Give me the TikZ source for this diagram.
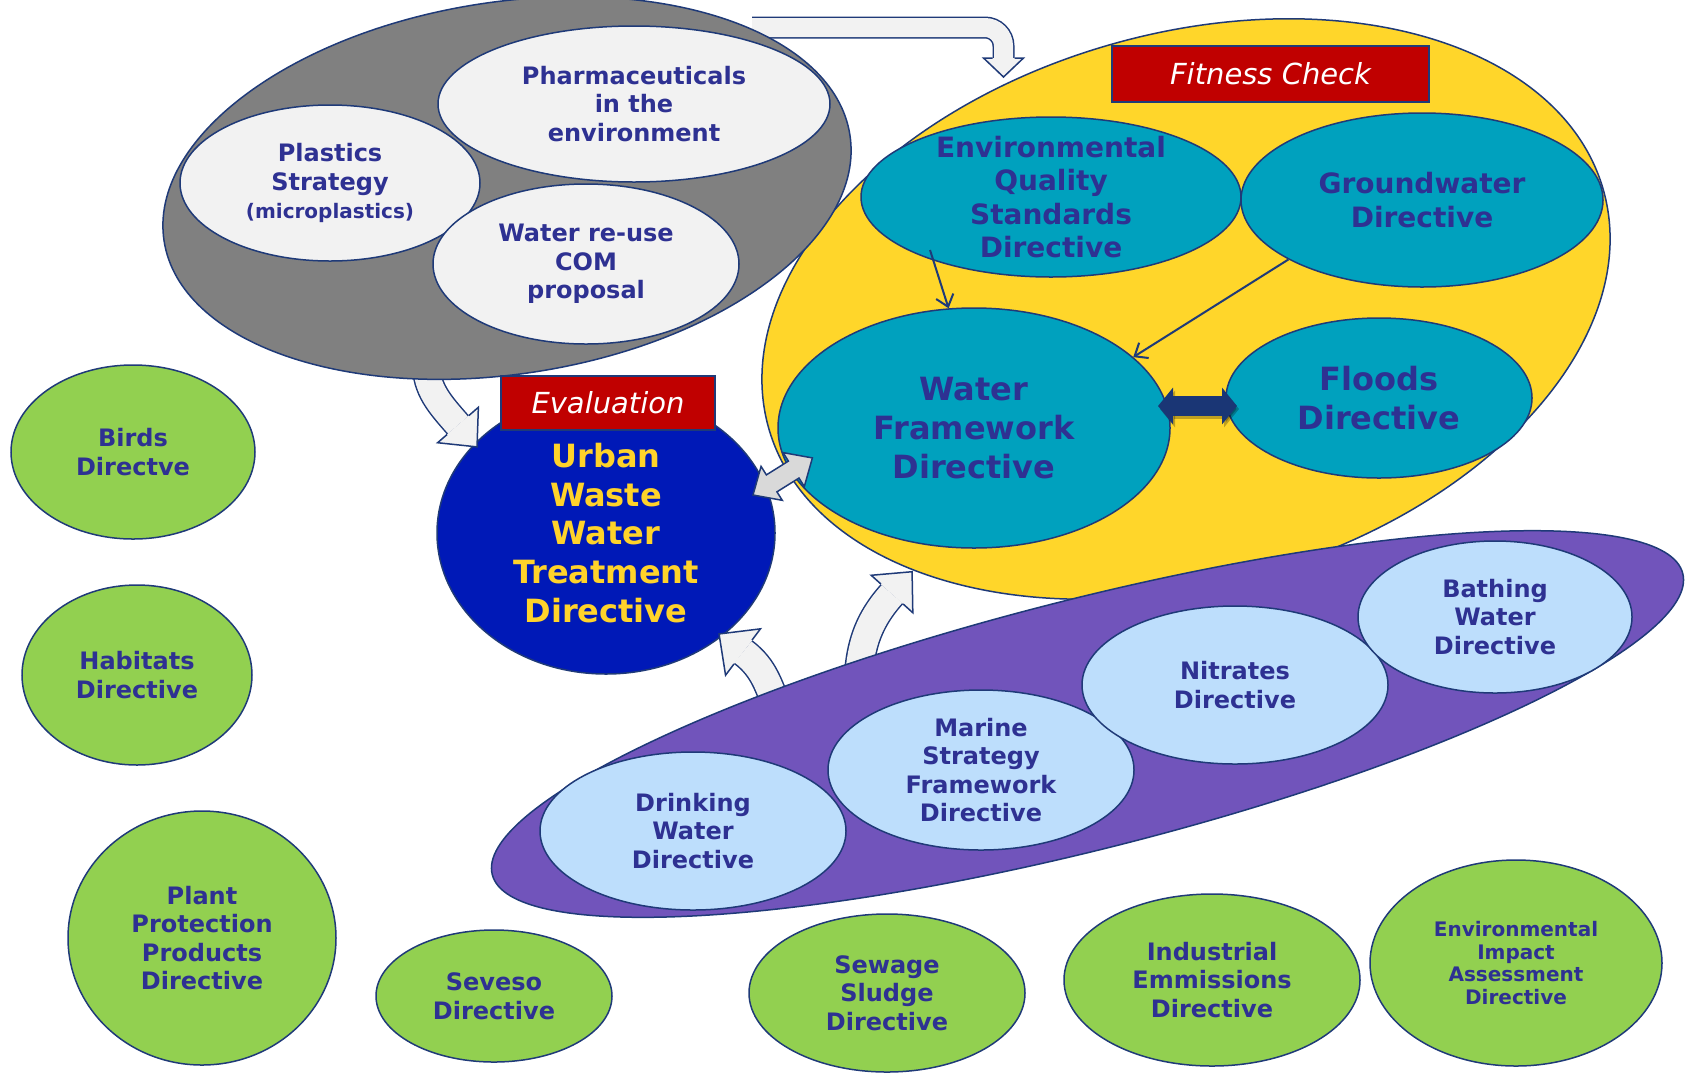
\documentclass[tikz,border=0pt]{standalone}
\usepackage{fontspec}
\setmainfont{DejaVu Sans}
\usetikzlibrary{shapes.geometric,arrows.meta}
\definecolor{edgeblue}{HTML}{1F3A78}
\definecolor{txtblue}{HTML}{2E3192}
\definecolor{groupgray}{HTML}{808080}
\definecolor{palegray}{HTML}{F2F2F2}
\definecolor{midgray}{HTML}{D9D9D9}
\definecolor{fcyellow}{HTML}{FFD62A}
\definecolor{dirteal}{HTML}{00A1BE}
\definecolor{labelred}{HTML}{C00000}
\definecolor{uwwblue}{HTML}{0019B7}
\definecolor{uwwtext}{HTML}{FFD32A}
\definecolor{seapurple}{HTML}{7154BB}
\definecolor{paleblue}{HTML}{BDDEFC}
\definecolor{dirgreen}{HTML}{92D050}
\definecolor{arrownavy}{HTML}{1A3675}

\tikzset{
  ell/.style={ellipse, draw=edgeblue, line width=1.5pt, inner sep=0pt},
  tag/.style={rectangle, draw=edgeblue, line width=1.2pt, fill=labelred, text=white, inner sep=0pt, font=\itshape\fontsize{29}{34}\selectfont},
  txt/.style={text=txtblue, align=center, inner sep=0pt, font=\bfseries\fontsize{24}{28.5}\selectfont},
  txtl/.style={txt, font=\bfseries\fontsize{28}{33.6}\selectfont},
  txtxl/.style={txt, font=\bfseries\fontsize{32}{38.6}\selectfont},
  txts/.style={txt, font=\bfseries\fontsize{20}{22.5}\selectfont},
  shaft/.style={draw=edgeblue, line width=1.5pt, double=palegray},
  headfill/.style={fill=palegray},
  headedge/.style={draw=edgeblue, line width=1.5pt},
  link/.style={draw=edgeblue, line width=2pt, -{Straight Barb[length=11pt,width=18pt]}},
  navytips/.style={{Triangle[length=15pt,width=36pt]}-{Triangle[length=15pt,width=36pt]}},
}

\begin{document}
\begin{tikzpicture}[x=1pt, y=1pt]
\useasboundingbox (0,0) rectangle (1685,-1072);

% fitness check group
\node[ell, fill=fcyellow, minimum width=868, minimum height=550, rotate=16] (fitness) at (1186,-309) {};
\node[ell, fill=dirteal, minimum width=380, minimum height=160] (eqs) at (1051,-197) {};
\node[txtl] (eqs-t) at (eqs) {Environmental\\Quality\\Standards\\Directive};
\node[ell, fill=dirteal, minimum width=362, minimum height=174] (gw) at (1422,-200) {};
\node[txtl] (gw-t) at (gw) {Groundwater\\Directive};
\node[ell, fill=dirteal, minimum width=392, minimum height=240] (wfd) at (974,-428) {};
\node[txtxl] (wfd-t) at (wfd) {Water\\Framework\\Directive};
\node[ell, fill=dirteal, minimum width=306, minimum height=160] (floods) at (1379,-398) {};
\node[txtxl] (floods-t) at (floods) {Floods\\Directive};

% evaluated directive
\node[ell, fill=uwwblue, minimum width=338, minimum height=282] (uwwtd) at (606,-533) {};
\node[txtxl, text=uwwtext] (uwwtd-t) at (uwwtd) {Urban\\Waste\\Water\\Treatment\\Directive};

% block arrows out of the gray group
\coordinate (topstart) at (752,-27.5);
\coordinate (tophead) at (1003.5,-58);
\draw[shaft, double distance=19pt] (topstart) -- (985,-27.5) arc[start angle=90, end angle=0, radius=18.5] -- (tophead);
\fill[headfill, shift={(tophead)}, rotate=-90] (0,-20) -- (19,0) -- (0,20) -- cycle;
\draw[headedge, shift={(tophead)}, rotate=-90] (0,11) -- (0,20) -- (19,0) -- (0,-20) -- (0,-11);

\coordinate (grayout) at (426,-362);
\coordinate (bhead) at (458,-425);
\draw[shaft, double distance=26pt] (grayout) to[out=-90, in=131] (bhead);
\fill[headfill, shift={(bhead)}, rotate=-49] (0,-27) -- (29,0) -- (0,27) -- cycle;
\draw[headedge, shift={(bhead)}, rotate=-49] (0,14.5) -- (0,27) -- (29,0) -- (0,-27) -- (0,-14.5);

% gray group
\node[ell, fill=groupgray, minimum width=694, minimum height=372, rotate=8.8] (group) at (507,-188) {};
\node[ell, fill=palegray, minimum width=392, minimum height=156] (pharm) at (634,-104) {};
\node[txt] (pharm-t) at (pharm) {Pharmaceuticals\\in the\\environment};
\node[ell, fill=palegray, minimum width=300, minimum height=156] (plast) at (330,-183) {};
\node[txt] (plast-t) at (plast) {Plastics\\Strategy\\{\fontsize{20}{24}\selectfont (microplastics)}};
\node[ell, fill=palegray, minimum width=306, minimum height=160] (reuse) at (586,-264) {};
\node[txt] (reuse-t) at (reuse) {Water re-use\\COM\\proposal};

% block arrows out of the purple group
\coordinate (purpout1) at (779,-712);
\coordinate (dhead) at (743,-652);
\draw[shaft, double distance=27pt] (purpout1) to[out=112, in=-37] (dhead);
\fill[headfill, shift={(dhead)}, rotate=143] (0,-29) -- (30,0) -- (0,29) -- cycle;
\draw[headedge, shift={(dhead)}, rotate=143] (0,15) -- (0,29) -- (30,0) -- (0,-29) -- (0,-15);

\coordinate (purpout2) at (858,-700);
\coordinate (ehead) at (892,-594);
\draw[shaft, double distance=27pt] (purpout2) to[out=90, in=-132] (ehead);
\fill[headfill, shift={(ehead)}, rotate=48] (0,-28) -- (30,0) -- (0,28) -- cycle;
\draw[headedge, shift={(ehead)}, rotate=48] (0,15) -- (0,28) -- (30,0) -- (0,-28) -- (0,-15);

% purple group
\node[ell, fill=seapurple, minimum width=1228, minimum height=250, rotate=14.2] (water) at (1087.5,-724) {};
\node[ell, fill=paleblue, minimum width=306, minimum height=158] (drink) at (693,-831) {};
\node[txt] (drink-t) at (drink) {Drinking\\Water\\Directive};
\node[ell, fill=paleblue, minimum width=306, minimum height=160] (marine) at (981,-770) {};
\node[txt] (marine-t) at (marine) {Marine\\Strategy\\Framework\\Directive};
\node[ell, fill=paleblue, minimum width=306, minimum height=158] (nitr) at (1235,-685) {};
\node[txt] (nitr-t) at (nitr) {Nitrates\\Directive};
\node[ell, fill=paleblue, minimum width=274, minimum height=152] (bath) at (1495,-617) {};
\node[txt] (bath-t) at (bath) {Bathing\\Water\\Directive};

% two-way arrow uwwtd - wfd
\coordinate (uwwarr) at (753,-495);
\filldraw[fill=midgray, draw=edgeblue, line width=1.5pt, shift={(uwwarr)}, rotate=32] (0,0) -- (22,20) -- (22,10) -- (48,10) -- (48,20) -- (70,0) -- (48,-20) -- (48,-10) -- (22,-10) -- (22,-20) -- cycle;

% labels
\node[tag, minimum width=317, minimum height=56] (fc) at (1270.5,-74) {Fitness Check};
\node[tag, minimum width=214, minimum height=54] (ev) at (608,-403) {Evaluation};

% other directives
\node[ell, fill=dirgreen, minimum width=244, minimum height=174] (birds) at (133,-452) {};
\node[txt] (birds-t) at (birds) {Birds\\Directve};
\node[ell, fill=dirgreen, minimum width=230, minimum height=180] (habitats) at (137,-675) {};
\node[txt] (habitats-t) at (habitats) {Habitats\\Directive};
\node[ell, fill=dirgreen, minimum width=268, minimum height=254] (plant) at (202,-938) {};
\node[txt] (plant-t) at (plant) {Plant\\Protection\\Products\\Directive};
\node[ell, fill=dirgreen, minimum width=236, minimum height=132] (seveso) at (494,-996) {};
\node[txt] (seveso-t) at (seveso) {Seveso\\Directive};
\node[ell, fill=dirgreen, minimum width=276, minimum height=158] (sewage) at (887,-993) {};
\node[txt] (sewage-t) at (sewage) {Sewage\\Sludge\\Directive};
\node[ell, fill=dirgreen, minimum width=296, minimum height=172] (ied) at (1212,-980) {};
\node[txt] (ied-t) at (ied) {Industrial\\Emmissions\\Directive};
\node[ell, fill=dirgreen, minimum width=292, minimum height=206] (eia) at (1516,-963) {};
\node[txts] (eia-t) at (eia) {Environmental\\Impact\\Assessment\\Directive};

% links inside the fitness check
\coordinate (wfdarr) at (1158,-406);
\coordinate (fldarr) at (1237,-406);
\draw[black, opacity=.25, line width=20pt, navytips] ([shift={(2,-3)}]wfdarr) -- ([shift={(2,-3)}]fldarr);
\draw[arrownavy, line width=20pt, navytips] (wfdarr) -- (fldarr);
\coordinate (eqsfoot) at (930,-250);
\draw[link] (eqsfoot) -- (wfd.102);
\draw[link] (gw.204) -- (wfd.24);
\end{tikzpicture}
\end{document}
